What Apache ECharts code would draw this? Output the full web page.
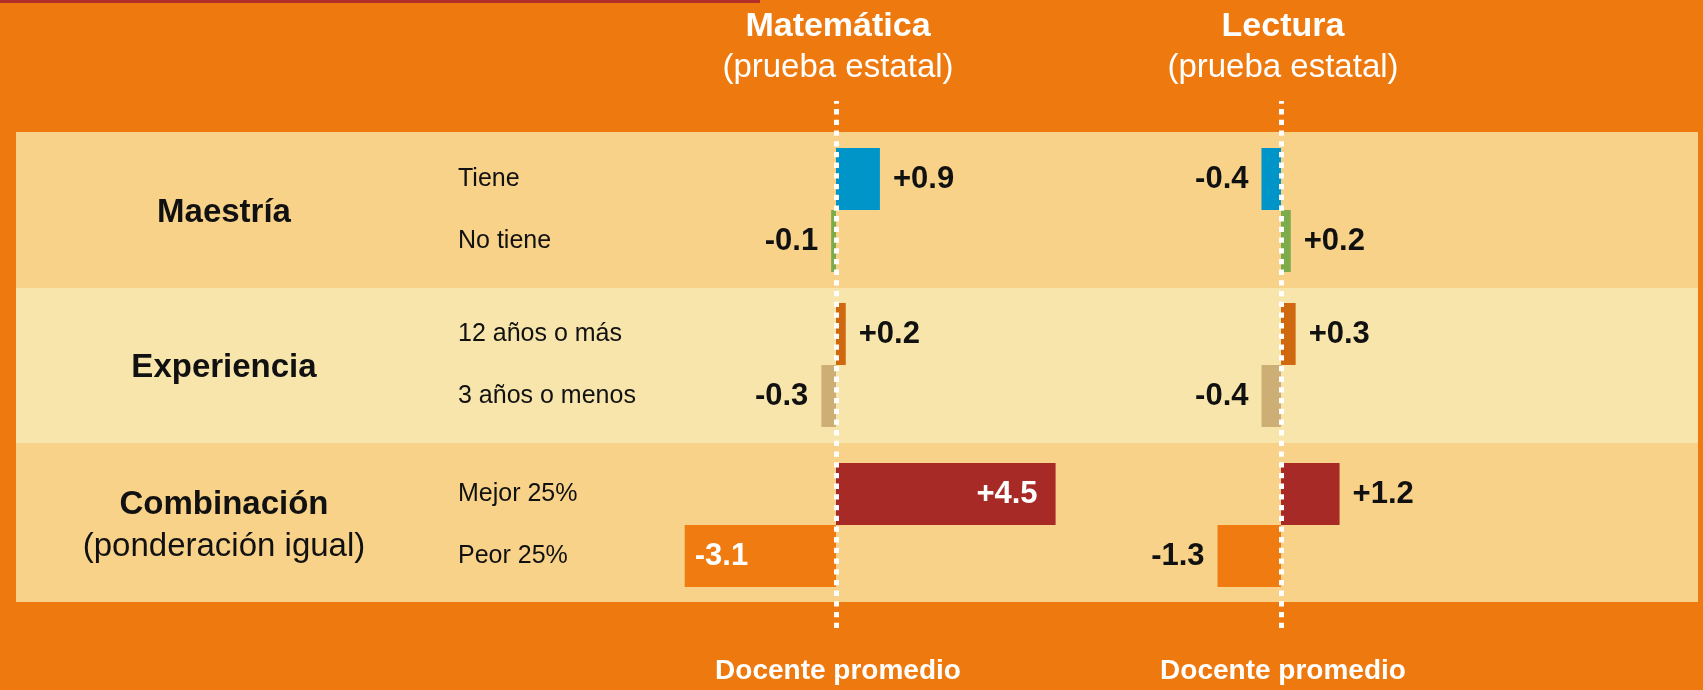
<!DOCTYPE html>
<html>
<head>
<meta charset="utf-8">
<script src="https://cdn.jsdelivr.net/npm/echarts@6/dist/echarts.min.js"></script>
<style>
  html, body { margin: 0; padding: 0; background: #ee790e; }
  #chart { width: 1703px; height: 690px; }
</style>
</head>
<body>
<div id="chart"></div>
<script>
const groups = ['Maestría', 'Experiencia', 'Combinación']
const groupNotes = ['', '', '(ponderación igual)']
const rowLabels = [
    ['Tiene', 'No tiene'],
    ['12 años o más', '3 años o menos'],
    ['Mejor 25%', 'Peor 25%']
]
const subjects = ['Matemática', 'Lectura']
const mathValues = [[0.9, -0.1], [0.2, -0.3], [4.5, -3.1]]
const readValues = [[-0.4, 0.2], [0.3, -0.4], [1.2, -1.3]]
const rowColors = [
    ['#0095c8', '#7bab4b'],
    ['#d0680f', '#cdae75'],
    ['#a82a27', '#ef7b11']
]

const FONT = "'Liberation Sans', Arial, sans-serif"
const PX = 48.8
const panels = [
    { zero: 836, min: -4, max: 5, values: mathValues },
    { zero: 1281, min: -3, max: 3, values: readValues }
]
const groupTops = [148, 303, 463]
const bands = [[132, 288, '#f7d288'], [288, 443, '#f8e5ab'], [443, 602, '#f7d288']]

const grids = []
const xAxes = []
const yAxes = []
const series = []

function fmt(v) {
    return (v > 0 ? '+' : '') + v.toFixed(1)
}

groups.forEach((name, g) => {
    panels.forEach((p, s) => {
        const left = p.zero + p.min * PX
        grids.push({ left: left, width: (p.max - p.min) * PX, top: groupTops[g], height: 124 })
        const idx = grids.length - 1
        xAxes.push({ gridIndex: idx, type: 'value', min: p.min, max: p.max, show: false })
        yAxes.push({
            gridIndex: idx, type: 'category', inverse: true, data: rowLabels[g],
            axisLine: { show: false }, axisTick: { show: false },
            axisLabel: {
                show: s === 0, align: 'left', margin: left - 458,
                fontFamily: FONT, fontSize: 25, color: '#111'
            }
        })
        series.push({
            type: 'bar', xAxisIndex: idx, yAxisIndex: idx, barWidth: 62,
            data: p.values[g].map((v, r) => {
                const inside = Math.abs(v) > 2
                return {
                    value: v,
                    itemStyle: { color: rowColors[g][r] },
                    label: {
                        show: true,
                        formatter: fmt(v),
                        position: inside ? (v > 0 ? 'insideRight' : 'insideLeft') : (v > 0 ? 'right' : 'left'),
                        distance: inside ? (v > 0 ? 18 : 10) : 13,
                        color: inside ? '#fff' : '#111',
                        fontFamily: FONT, fontWeight: 'bold', fontSize: 31
                    }
                }
            })
        })
    })
})

// full-height frames carrying the dashed zero line
panels.forEach((p) => {
    grids.push({ left: p.zero + p.min * PX, width: (p.max - p.min) * PX, top: 101, height: 527 })
    const idx = grids.length - 1
    xAxes.push({ gridIndex: idx, type: 'value', min: p.min, max: p.max, show: false })
    yAxes.push({
        gridIndex: idx, type: 'value', min: 0, max: 1, z: 10,
        axisLine: { show: true, onZero: true, lineStyle: { color: '#fff', width: 5, type: [5.3, 5.4], cap: 'butt' } },
        axisTick: { show: false }, axisLabel: { show: false }, splitLine: { show: false }
    })
})

const graphics = []
graphics.push({ type: 'rect', z: -10, shape: { x: 0, y: 0, width: 760, height: 3 }, style: { fill: '#b2302a' } })
bands.forEach((b) => {
    graphics.push({ type: 'rect', z: -10, shape: { x: 16, y: b[0], width: 1682, height: b[1] - b[0] }, style: { fill: b[2] } })
})

function text(str, x, y, size, weight, color) {
    graphics.push({
        type: 'text', z: 20, x: x, y: y,
        style: { text: str, fill: color, font: weight + ' ' + size + 'px ' + FONT, align: 'center', verticalAlign: 'middle' }
    })
}

subjects.forEach((name, s) => {
    text(name, panels[s].zero + 2, 27, 34, 'bold', '#fff')
    text('(prueba estatal)', panels[s].zero + 2, 68, 33, 'normal', '#fff')
    text('Docente promedio', panels[s].zero + 2, 671, 28, 'bold', '#fff')
})

const groupLabelY = [213, 368, 505]
groups.forEach((name, g) => {
    text(name, 224, groupLabelY[g], 33, 'bold', '#111')
    if (groupNotes[g]) {
        text(groupNotes[g], 224, 547, 33, 'normal', '#111')
    }
})

const chart = echarts.init(document.getElementById('chart'))
chart.setOption({
    backgroundColor: '#ee790e',
    animation: false,
    grid: grids,
    xAxis: xAxes,
    yAxis: yAxes,
    series: series,
    graphic: graphics
})
</script>
</body>
</html>
